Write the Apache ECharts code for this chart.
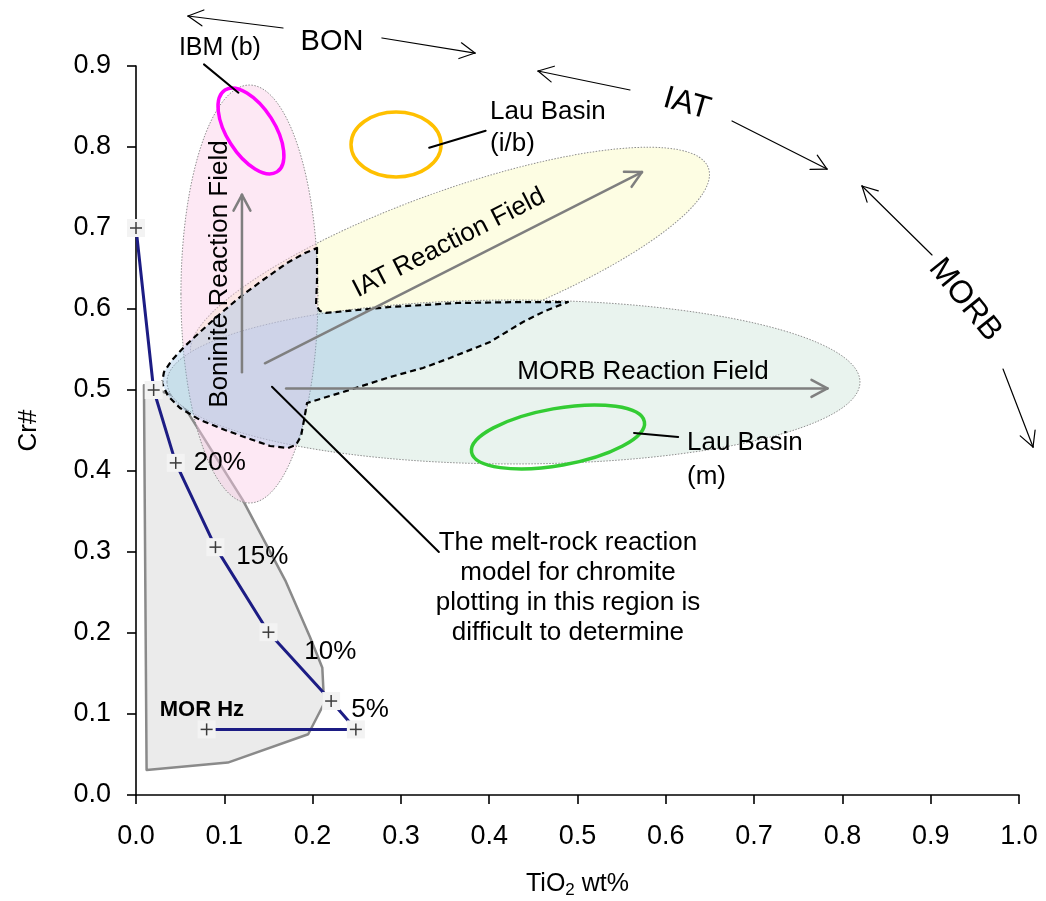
<!DOCTYPE html>
<html>
<head>
<meta charset="utf-8">
<script src="https://cdn.jsdelivr.net/npm/echarts@6/dist/echarts.min.js"></script>
<style>
  html, body { margin: 0; padding: 0; background: #ffffff; }
  #chart { width: 1046px; height: 901px; }
</style>
</head>
<body>
<div id="chart"></div>
<script>
const FONT = '"Liberation Sans", Arial, Helvetica, sans-serif';

// ---- axis tick labels ----
const xTickLabels = ['0.0', '0.1', '0.2', '0.3', '0.4', '0.5', '0.6', '0.7', '0.8', '0.9', '1.0'];
const yTickLabels = ['0.0', '0.1', '0.2', '0.3', '0.4', '0.5', '0.6', '0.7', '0.8', '0.9'];

// ---- partial melting trend of the mantle residue (TiO2 wt%, Cr#) ----
const meltTiO2 = [0.000, 0.020, 0.045, 0.090, 0.150, 0.221, 0.249, 0.080];
const meltCrNo = [0.700, 0.500, 0.410, 0.306, 0.201, 0.116, 0.081, 0.081];

// degree-of-melting labels along the trend
const meltPctLabels = ['20%', '15%', '10%', '5%'];
const meltPctTiO2 = [0.095, 0.143, 0.220, 0.265];
const meltPctCrNo = [0.410, 0.294, 0.177, 0.105];

// ---- mid-ocean-ridge harzburgite field ----
const morHzTiO2 = [0.009, 0.048, 0.121, 0.169, 0.197, 0.211, 0.213, 0.195, 0.104, 0.012];
const morHzCrNo = [0.506, 0.491, 0.364, 0.265, 0.195, 0.157, 0.113, 0.075, 0.040, 0.031];

// ---- region where the reaction model cannot be resolved ----
const uncertainTiO2 = [0.2050, 0.2050, 0.2039, 0.2084, 0.2152, 0.2877, 0.3635, 0.4383, 0.4892, 0.4632,
  0.4383, 0.4009, 0.3556, 0.3250, 0.2877, 0.2344, 0.1937, 0.1903, 0.1869, 0.1812, 0.1721, 0.1518,
  0.1291, 0.1008, 0.0725, 0.0498, 0.0362, 0.0294, 0.0317, 0.0408, 0.0555, 0.0725, 0.0951, 0.1178,
  0.1438, 0.1710, 0.1914];
const uncertainCrNo = [0.6753, 0.6358, 0.6049, 0.5975, 0.5951, 0.6025, 0.6074, 0.6086, 0.6086, 0.5975,
  0.5840, 0.5593, 0.5395, 0.5272, 0.5160, 0.4975, 0.4840, 0.4630, 0.4432, 0.4321, 0.4284, 0.4309,
  0.4395, 0.4506, 0.4630, 0.4778, 0.4926, 0.5086, 0.5222, 0.5370, 0.5543, 0.5716, 0.5938, 0.6148,
  0.6358, 0.6568, 0.6691];

// ---- elliptical fields: [centre TiO2, centre Cr#, half-width TiO2, half-height Cr#, tilt deg] ----
const iatField       = [0.3556, 0.6580, 0.3114, 0.0864, 20];
const morbField      = [0.4275, 0.5099, 0.3924, 0.1012, 0];
const boniniteField  = [0.1285, 0.6185, 0.0776, 0.2580, 0];
const ibmBoninite    = [0.1302, 0.8198, 0.0549, 0.0296, -57.6];
const lauIntermediate = [0.2945, 0.8031, 0.0510, 0.0401, 0];
const lauMorb        = [0.4779, 0.4420, 0.0994, 0.0352, 10];

// ---- arrows and leader lines: [TiO2 from, Cr# from, TiO2 to, Cr# to] ----
const magmaTrendArrows = [
  [0.1665, 0.9469, 0.0589, 0.9617],
  [0.2786, 0.9346, 0.3839, 0.9160],
  [0.5595, 0.8704, 0.4553, 0.8938],
  [0.6750, 0.8321, 0.7826, 0.7728],
  [0.9015, 0.6667, 0.8222, 0.7519],
  [0.9819, 0.5259, 1.0159, 0.4296]
];
const reactionArrows = [
  [0.120, 0.522, 0.120, 0.741],
  [0.146, 0.533, 0.573, 0.769],
  [0.170, 0.502, 0.783, 0.502]
];
const leaderLines = [
  [0.077, 0.902, 0.116, 0.867],
  [0.332, 0.799, 0.396, 0.820],
  [0.564, 0.447, 0.614, 0.442],
  [0.154, 0.504, 0.343, 0.300]
];

// ---- text notes ----
const noteTexts = [
  'BON', 'IBM (b)', 'Lau Basin\n(i/b)', 'IAT', 'MORB', 'Lau Basin\n(m)',
  'Boninite Reaction Field', 'IAT Reaction Field', 'MORB Reaction Field',
  'The melt-rock reaction\nmodel for chromite\nplotting in this region is\ndifficult to determine',
  'MOR Hz'
];
const noteTiO2 = [0.222, 0.095, 0.401, 0.624, 0.939, 0.624, 0.0951, 0.3545, 0.5742, 0.4892, 0.0747];
const noteCrNo = [0.930, 0.922, 0.824, 0.853, 0.611, 0.414, 0.6432, 0.6815, 0.5222, 0.2556, 0.1049];

// presentation of each note (kept apart from the anchors above)
const noteLook = [
  { size: 29, rot: 0,   align: 'center' },
  { size: 25, rot: 0,   align: 'center' },
  { size: 26, rot: 0,   align: 'left', lh: 32 },
  { size: 32, rot: -16, align: 'center' },
  { size: 32, rot: -51, align: 'center' },
  { size: 26, rot: 0,   align: 'left', lh: 34 },
  { size: 26, rot: 90,  align: 'center' },
  { size: 26, rot: 27,  align: 'center' },
  { size: 26, rot: 0,   align: 'center' },
  { size: 26, rot: 0,   align: 'center', lh: 30 },
  { size: 22, rot: 0,   align: 'center', bold: true }
];

// ---------- renderers ----------
function ellipseSeries(name, rows, styles, z) {
  return {
    type: 'custom', name: name, z: z, silent: true, clip: false,
    data: rows,
    renderItem: function (params, api) {
      const c = api.coord([api.value(0), api.value(1)]);
      const s = api.size([api.value(2), api.value(3)]);
      return {
        type: 'ellipse',
        x: c[0], y: c[1],
        rotation: api.value(4) * Math.PI / 180,
        shape: { cx: 0, cy: 0, rx: Math.abs(s[0]), ry: Math.abs(s[1]) },
        style: styles[params.dataIndex]
      };
    }
  };
}

function polygonSeries(name, xs, ys, style, z) {
  return {
    type: 'custom', name: name, z: z, silent: true, clip: false,
    data: [[xs[0], ys[0]]],
    renderItem: function (params, api) {
      const pts = xs.map(function (x, i) { return api.coord([x, ys[i]]); });
      return { type: 'polygon', shape: { points: pts }, style: style };
    }
  };
}

function arrowSeries(name, rows, color, width, head, z) {
  return {
    type: 'custom', name: name, z: z, silent: true, clip: false,
    data: rows,
    renderItem: function (params, api) {
      const p = api.coord([api.value(0), api.value(1)]);
      const q = api.coord([api.value(2), api.value(3)]);
      const st = { stroke: color, lineWidth: width, lineCap: 'round' };
      const children = [{ type: 'line', shape: { x1: p[0], y1: p[1], x2: q[0], y2: q[1] }, style: st }];
      if (head) {
        const ang = Math.atan2(q[1] - p[1], q[0] - p[0]);
        [-1, 1].forEach(function (sgn) {
          const a = ang + Math.PI + sgn * head.spread * Math.PI / 180;
          children.push({
            type: 'line',
            shape: { x1: q[0], y1: q[1], x2: q[0] + head.len * Math.cos(a), y2: q[1] + head.len * Math.sin(a) },
            style: st
          });
        });
      }
      return { type: 'group', children: children };
    }
  };
}

function textSeries(name, xs, ys, texts, looks, z) {
  return {
    type: 'custom', name: name, z: z, silent: true, clip: false,
    data: xs.map(function (x, i) { return [x, ys[i]]; }),
    renderItem: function (params, api) {
      const i = params.dataIndex;
      const c = api.coord([api.value(0), api.value(1)]);
      const lk = looks[i] || looks[0];
      return {
        type: 'text', x: c[0], y: c[1],
        rotation: (lk.rot || 0) * Math.PI / 180,
        style: {
          text: texts[i], fill: '#000000',
          fontFamily: FONT, fontSize: lk.size,
          fontWeight: lk.bold ? 'bold' : 'normal',
          align: lk.align, verticalAlign: 'middle',
          lineHeight: lk.lh || Math.round(lk.size * 1.2)
        }
      };
    }
  };
}

const fieldBorder = { stroke: '#8e8e8e', lineWidth: 1, lineDash: [1.5, 1.5] };

const option = {
  backgroundColor: '#ffffff',
  animation: false,
  grid: { left: 136, right: 27, top: 66, bottom: 106, containLabel: false, outerBoundsMode: 'none' },
  xAxis: {
    type: 'value', min: 0, max: 1, interval: 0.1,
    name: '{a|TiO}{s|2}{a| wt%}',
    nameLocation: 'middle', nameGap: 74,
    nameTextStyle: {
      rich: {
        a: { fontFamily: FONT, fontSize: 25, color: '#000', lineHeight: 30 },
        s: { fontFamily: FONT, fontSize: 17, color: '#000', lineHeight: 14, verticalAlign: 'bottom' }
      }
    },
    axisLine: { lineStyle: { color: '#000', width: 1.6 } },
    axisTick: { length: 9, lineStyle: { color: '#000', width: 1.6 } },
    splitLine: { show: false },
    axisLabel: {
      fontFamily: FONT, fontSize: 27, color: '#000', margin: 28,
      formatter: function (v) { return xTickLabels[Math.round(v * 10)]; }
    }
  },
  yAxis: {
    type: 'value', min: 0, max: 0.9, interval: 0.1,
    name: 'Cr#', nameLocation: 'middle', nameGap: 94, nameRotate: 90,
    nameTextStyle: { fontFamily: FONT, fontSize: 26, color: '#000' },
    axisLine: { lineStyle: { color: '#000', width: 1.6 } },
    axisTick: { length: 9, lineStyle: { color: '#000', width: 1.6 } },
    splitLine: { show: false },
    axisLabel: {
      fontFamily: FONT, fontSize: 27, color: '#000', margin: 25,
      formatter: function (v) { return yTickLabels[Math.round(v * 10)]; }
    }
  },
  series: [
    polygonSeries('MOR Hz', morHzTiO2, morHzCrNo,
      { fill: '#ebebeb', stroke: '#8a8a8a', lineWidth: 2.5, lineJoin: 'round' }, 1),
    ellipseSeries('IAT field', [iatField],
      [Object.assign({ fill: '#fdfde3' }, fieldBorder)], 2),
    ellipseSeries('MORB field', [morbField],
      [Object.assign({ fill: '#e9f3ee' }, fieldBorder)], 3),
    ellipseSeries('Boninite field', [boniniteField],
      [Object.assign({ fill: 'rgba(250, 205, 230, 0.45)' }, fieldBorder)], 4),
    polygonSeries('Unresolved region', uncertainTiO2, uncertainCrNo,
      { fill: 'rgba(140, 185, 225, 0.35)', stroke: '#000000', lineWidth: 2.2, lineDash: [6, 4], lineJoin: 'round' }, 5),
    {
      type: 'line', name: 'Melting trend', z: 6, clip: false, silent: true,
      showSymbol: false, symbol: 'none',
      data: meltTiO2.map(function (x, i) { return [x, meltCrNo[i]]; }),
      lineStyle: { color: '#1c1c84', width: 3 }
    },
    ellipseSeries('Lau Basin and IBM', [ibmBoninite, lauIntermediate, lauMorb], [
      { fill: null, stroke: '#ff00ff', lineWidth: 3.5 },
      { fill: null, stroke: '#ffc000', lineWidth: 3.5 },
      { fill: null, stroke: '#33cc33', lineWidth: 3.5 }
    ], 7),
    arrowSeries('Reaction arrows', reactionArrows, '#7f7f7f', 2.5, { len: 18, spread: 28 }, 8),
    arrowSeries('Magma trend arrows', magmaTrendArrows, '#000000', 1.2, { len: 17, spread: 28 }, 8),
    arrowSeries('Leaders', leaderLines, '#000000', 2, null, 8),
    {
      type: 'custom', name: 'Melting steps', z: 9, silent: true, clip: false,
      data: meltTiO2.map(function (x, i) { return [x, meltCrNo[i]]; }),
      renderItem: function (params, api) {
        const c = api.coord([api.value(0), api.value(1)]);
        const st = { stroke: '#3c3c3c', lineWidth: 1.5 };
        return {
          type: 'group', x: c[0], y: c[1],
          children: [
            { type: 'rect', shape: { x: -9, y: -9, width: 18, height: 18 }, style: { fill: '#f3f3f3' } },
            { type: 'line', shape: { x1: -6, y1: 0, x2: 6, y2: 0 }, style: st },
            { type: 'line', shape: { x1: 0, y1: -6, x2: 0, y2: 6 }, style: st }
          ]
        };
      }
    },
    textSeries('Melt degree', meltPctTiO2, meltPctCrNo, meltPctLabels, [{ size: 26, rot: 0, align: 'center' }], 10),
    textSeries('Notes', noteTiO2, noteCrNo, noteTexts, noteLook, 10)
  ]
};

const chart = echarts.init(document.getElementById('chart'));
chart.setOption(option);
</script>
</body>
</html>
